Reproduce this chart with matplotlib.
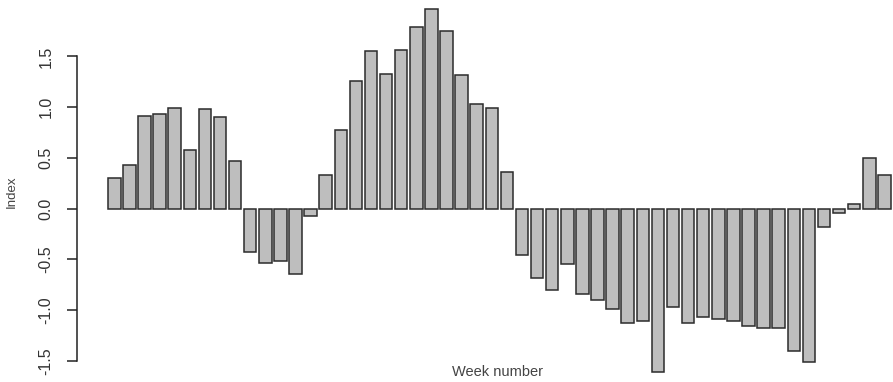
import numpy as np
import matplotlib
matplotlib.use("Agg")
import matplotlib.pyplot as plt

plt.rcParams['font.family'] = ['Liberation Sans', 'DejaVu Sans']

# weekly index, weeks 1..52
weeks = list(range(1, 53))
index_vals = [
    0.30, 0.43, 0.91, 0.93, 0.99, 0.58, 0.98, 0.90, 0.47, -0.43,
    -0.54, -0.52, -0.64, -0.07, 0.33, 0.78, 1.26, 1.55, 1.33, 1.56,
    1.79, 1.97, 1.75, 1.32, 1.03, 0.99, 0.36, -0.46, -0.68, -0.80,
    -0.55, -0.84, -0.90, -0.99, -1.13, -1.11, -1.61, -0.97, -1.13, -1.07,
    -1.09, -1.11, -1.16, -1.18, -1.18, -1.40, -1.51, -0.18, -0.04, 0.05,
    0.50, 0.33,
]
y_ticks = [-1.5, -1.0, -0.5, 0.0, 0.5, 1.0, 1.5]

W, H = 893, 382
fig = plt.figure(figsize=(W / 100, H / 100), dpi=100)

# plot region in pixels (partly runs off the saved canvas)
left, right, top, bottom = 76.7, 922.0, -5.8, 386.6
ax = fig.add_axes([left / W, (H - bottom) / H, (right - left) / W, (bottom - top) / H])

# barplot-style layout: width 1, space 0.2
n = len(index_vals)
x_left = 0.2 + 1.2 * np.arange(n)
ax.bar(x_left, index_vals, width=1.0, align='edge',
       color='#bebebe', edgecolor='#2b2b2b', linewidth=1.1)

xr = (x_left[0], x_left[-1] + 1.0)
xpad = 0.04 * (xr[1] - xr[0])
ax.set_xlim(xr[0] - xpad, xr[1] + xpad)
yr = (min(index_vals), max(index_vals))
ypad = 0.04 * (yr[1] - yr[0])
ax.set_ylim(yr[0] - ypad, yr[1] + ypad)

for s in ['top', 'right', 'bottom']:
    ax.spines[s].set_visible(False)
ax.spines['left'].set_bounds(y_ticks[0], y_ticks[-1])
ax.spines['left'].set_color('#222222')
ax.spines['left'].set_linewidth(1.1)
ax.set_xticks([])
ax.set_yticks(y_ticks)
ax.set_yticklabels([f"{v:.1f}" for v in y_ticks], rotation=90, va='center',
                   fontsize=11.5, color='#333333')
ax.tick_params(axis='y', direction='out', length=7.2, width=1.1,
               color='#222222', pad=9.5)

fig.text(498 / W, 1 - 372 / H, "Week number", ha='center', va='center',
         fontsize=10.5, color='#444444')
fig.text(12 / W, 1 - 192 / H, "Index", ha='center', va='center',
         rotation=90, fontsize=9.5, color='#444444')

fig.savefig("out.png", dpi=100)
